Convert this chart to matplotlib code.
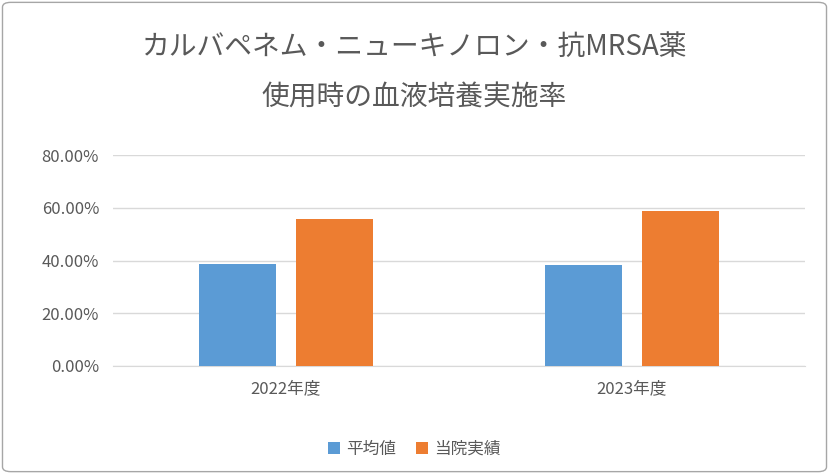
import matplotlib
matplotlib.use("Agg")
import matplotlib.pyplot as plt
from matplotlib.patches import FancyBboxPatch
import numpy as np

plt.rcParams["font.family"] = "Noto Sans CJK JP"

categories = ["2022年度", "2023年度"]
series_names = ["平均値", "当院実績"]
avg_values = [0.386, 0.383]
own_values = [0.557, 0.587]
colors = ["#5B9BD5", "#ED7D31"]
yticks = [0, 0.2, 0.4, 0.6, 0.8]

fig = plt.figure(figsize=(8.29, 4.74), dpi=100)
fig.patches.append(FancyBboxPatch((0.003, 0.005), 0.994, 0.99, boxstyle="round,pad=0,rounding_size=0.01",
                                  transform=fig.transFigure, fill=False, edgecolor="#A6A6A6", linewidth=1))
ax = fig.add_axes([113/829, 1-366/474, (805-113)/829, (366-155)/474])
x = np.arange(len(categories))
w = 0.225
ax.bar(x - 0.14, avg_values, w, color=colors[0], label=series_names[0], zorder=3)
ax.bar(x + 0.14, own_values, w, color=colors[1], label=series_names[1], zorder=3)
ax.set_xlim(-0.5, 1.5)
ax.set_ylim(0, 0.8)
ax.set_yticks(yticks)
ax.set_yticklabels([f"{v*100:.2f}%" for v in yticks], color="#595959", fontsize=12)
ax.set_xticks(x)
ax.set_xticklabels(categories, color="#595959", fontsize=12)
ax.grid(axis="y", color="#D9D9D9", linewidth=1, zorder=0)
for s in ["top", "right", "left"]:
    ax.spines[s].set_visible(False)
ax.spines["bottom"].set_color("#D9D9D9")
ax.tick_params(length=0, pad=10)
fig.text(0.5, 1-47/474, "カルバペネム・ニューキノロン・抗MRSA薬", ha="center", va="center", fontsize=20, color="#595959")
fig.text(0.5, 1-98/474, "使用時の血液培養実施率", ha="center", va="center", fontsize=20, color="#595959")
fig.legend(loc="center", bbox_to_anchor=(0.5, 1-449/474), ncol=2, frameon=False, fontsize=12,
           labelcolor="#595959", handlelength=0.7, handleheight=0.7, columnspacing=1.2, handletextpad=0.4)
fig.savefig("out.png", dpi=100)
